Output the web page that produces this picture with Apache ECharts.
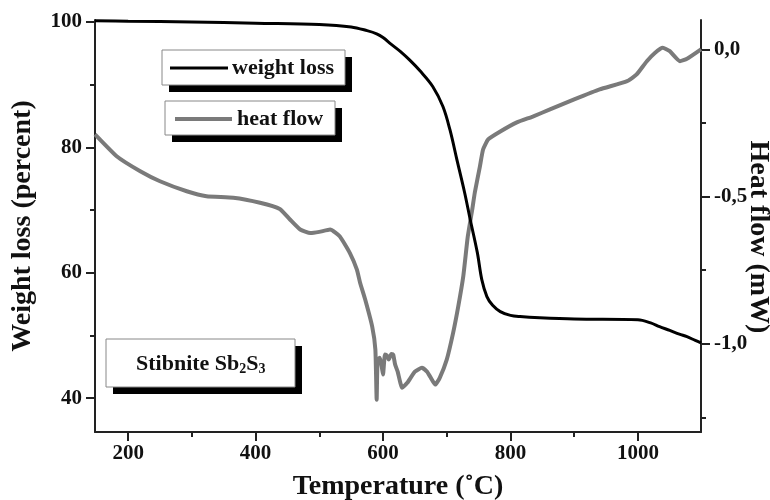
<!DOCTYPE html>
<html>
<head>
<meta charset="utf-8">
<script src="https://cdn.jsdelivr.net/npm/echarts@6/dist/echarts.min.js"></script>
<style>
html,body{margin:0;padding:0;background:#fff;}
#chart{width:770px;height:500px;}
</style>
</head>
<body>
<div id="chart"></div>
<script>
// Temperature (°C) for weight-loss curve
var tempWeight = [148, 200, 300, 400, 500, 550, 575, 590, 600, 612, 627, 642, 658, 678, 694, 705, 716, 728, 737, 748, 755, 763, 772, 784, 800, 815, 846, 900, 1000, 1020, 1034, 1050, 1065, 1077, 1090, 1099];
// Weight loss (percent)
var weightValues = [100.2, 100.1, 100.0, 99.8, 99.6, 99.2, 98.6, 98.1, 97.5, 96.5, 95.3, 93.9, 92.2, 89.7, 86.5, 82.8, 78.0, 72.8, 68.4, 63.2, 58.9, 56.2, 54.8, 53.8, 53.2, 53.0, 52.8, 52.6, 52.5, 52.0, 51.4, 50.8, 50.2, 49.8, 49.2, 48.8];
// Temperature (°C) for heat-flow curve
var tempHeat = [148, 182, 219, 250, 292, 323, 365, 407, 438, 454, 470, 486, 500, 517, 532, 548, 559, 564, 572, 583, 588, 590, 591.5, 595, 598, 600, 603, 606, 609, 613, 616, 619, 623, 630, 638, 650, 661, 669, 674, 682, 689, 700, 710, 718, 726, 733, 740, 744, 752, 757, 765, 784, 810, 835, 862, 900, 940, 983, 998, 1014, 1027, 1039, 1050, 1066, 1077, 1099];
// Heat flow (mW)
var heatValues = [-0.289, -0.363, -0.414, -0.448, -0.482, -0.499, -0.504, -0.521, -0.542, -0.578, -0.612, -0.624, -0.620, -0.612, -0.635, -0.692, -0.748, -0.793, -0.850, -0.942, -1.020, -1.190, -1.054, -1.048, -1.078, -1.105, -1.037, -1.040, -1.054, -1.035, -1.037, -1.071, -1.095, -1.150, -1.133, -1.095, -1.082, -1.095, -1.112, -1.139, -1.116, -1.054, -0.963, -0.874, -0.770, -0.636, -0.544, -0.487, -0.398, -0.340, -0.306, -0.279, -0.248, -0.228, -0.204, -0.170, -0.136, -0.108, -0.085, -0.040, -0.011, 0.006, -0.006, -0.040, -0.032, 0.0];

// Tick values
var xMajorTicks = [200, 400, 600, 800, 1000];
var xMinorTicks = [300, 500, 700, 900];
var leftMajorTicks = [40, 60, 80, 100];
var leftMinorTicks = [50, 70, 90];
var rightMajorTicks = [-1.0, -0.5, 0.0];
var rightMinorTicks = [-1.25, -0.75, -0.25];

var FONT = 'Liberation Serif';

function zip(a, b) { return a.map(function (v, i) { return [v, b[i]]; }); }

var gridBox = { left: 95, right: 69, top: 20, bottom: 68, containLabel: false, outerBoundsMode: 'none' };
var axisColor = '#222';
var tickLabel = { fontFamily: FONT, fontWeight: 'bold', fontSize: 21, color: '#111' };
var titleStyle = { fontFamily: FONT, fontWeight: 'bold', fontSize: 28, color: '#111' };

var chart = echarts.init(document.getElementById('chart'), null, { renderer: 'canvas' });
chart.setOption({
  animation: false,
  backgroundColor: '#fff',
  grid: [
    Object.assign({}, gridBox),
    Object.assign({}, gridBox)
  ],
  xAxis: [
    {
      type: 'value', gridIndex: 0, min: 148, max: 1099, position: 'bottom',
      axisLine: { show: true, onZero: false, lineStyle: { color: axisColor, width: 2 } },
      axisTick: { show: true, inside: false, length: 9, customValues: xMajorTicks, lineStyle: { color: axisColor, width: 2 } },
      axisLabel: Object.assign({ customValues: xMajorTicks, margin: 11, formatter: function (v) { return String(v); } }, tickLabel),
      splitLine: { show: false },
      name: 'Temperature (˚C)', nameLocation: 'middle', nameGap: 41, nameMoveOverlap: false,
      nameTextStyle: titleStyle
    },
    {
      type: 'value', gridIndex: 1, min: 148, max: 1099, position: 'bottom',
      axisLine: { show: false, onZero: false },
      axisTick: { show: true, inside: false, length: 5, customValues: xMinorTicks, lineStyle: { color: axisColor, width: 2 } },
      axisLabel: { show: false },
      splitLine: { show: false }
    }
  ],
  yAxis: [
    {
      type: 'value', gridIndex: 0, min: 34.6, max: 100.3, position: 'left',
      axisLine: { show: true, onZero: false, lineStyle: { color: axisColor, width: 2 } },
      axisTick: { show: true, inside: false, length: 9, customValues: leftMajorTicks, lineStyle: { color: axisColor, width: 2 } },
      axisLabel: Object.assign({ customValues: leftMajorTicks, margin: 13, formatter: function (v) { return String(v); } }, tickLabel),
      splitLine: { show: false },
      name: 'Weight loss (percent)', nameLocation: 'middle', nameGap: 58, nameRotate: 90, nameMoveOverlap: false,
      nameTextStyle: titleStyle
    },
    {
      type: 'value', gridIndex: 0, min: -1.3, max: 0.1, position: 'right',
      axisLine: { show: true, onZero: false, lineStyle: { color: axisColor, width: 2 } },
      axisTick: { show: true, inside: false, length: 9, customValues: rightMajorTicks, lineStyle: { color: axisColor, width: 2 } },
      axisLabel: Object.assign({
        customValues: rightMajorTicks, margin: 13,
        formatter: function (v) { return (Math.abs(v) < 1e-9 ? 0 : v).toFixed(1).replace('.', ','); }
      }, tickLabel),
      splitLine: { show: false },
      name: 'Heat flow (mW)', nameLocation: 'middle', nameGap: 43, nameRotate: -90, nameMoveOverlap: false,
      nameTextStyle: Object.assign({ padding: [0, 0, 0, 22] }, titleStyle)
    },
    {
      type: 'value', gridIndex: 1, min: 34.6, max: 100.3, position: 'left',
      axisLine: { show: false, onZero: false },
      axisTick: { show: true, inside: false, length: 5, customValues: leftMinorTicks, lineStyle: { color: axisColor, width: 2 } },
      axisLabel: { show: false },
      splitLine: { show: false }
    },
    {
      type: 'value', gridIndex: 1, min: -1.3, max: 0.1, position: 'right',
      axisLine: { show: false, onZero: false },
      axisTick: { show: true, inside: false, length: 5, customValues: rightMinorTicks, lineStyle: { color: axisColor, width: 2 } },
      axisLabel: { show: false },
      splitLine: { show: false }
    }
  ],
  series: [
    {
      name: 'heat flow', type: 'line', xAxisIndex: 0, yAxisIndex: 1,
      data: zip(tempHeat, heatValues), showSymbol: false, smooth: 0.15,
      lineStyle: { color: '#7a7a7a', width: 4 }, itemStyle: { color: '#7a7a7a' }, z: 2
    },
    {
      name: 'weight loss', type: 'line', xAxisIndex: 0, yAxisIndex: 0,
      data: zip(tempWeight, weightValues), showSymbol: false, smooth: 0.35,
      lineStyle: { color: '#000', width: 3 }, itemStyle: { color: '#000' }, z: 3
    }
  ],
  graphic: [
    // weight loss legend box
    { type: 'rect', shape: { x: 169, y: 57, width: 183, height: 35 }, style: { fill: '#000' }, z: 10 },
    { type: 'rect', shape: { x: 162, y: 50, width: 183, height: 35 }, style: { fill: '#fff', stroke: '#888', lineWidth: 1 }, z: 11 },
    { type: 'line', shape: { x1: 170, y1: 68, x2: 228, y2: 68 }, style: { stroke: '#000', lineWidth: 3 }, z: 12 },
    { type: 'text', x: 232, y: 68, style: { text: 'weight loss', font: 'bold 22px "Liberation Serif"', fill: '#111', verticalAlign: 'middle' }, z: 12 },
    // heat flow legend box
    { type: 'rect', shape: { x: 172, y: 108, width: 170, height: 34 }, style: { fill: '#000' }, z: 10 },
    { type: 'rect', shape: { x: 165, y: 101, width: 170, height: 34 }, style: { fill: '#fff', stroke: '#888', lineWidth: 1 }, z: 11 },
    { type: 'line', shape: { x1: 175, y1: 119, x2: 232, y2: 119 }, style: { stroke: '#7a7a7a', lineWidth: 4 }, z: 12 },
    { type: 'text', x: 237, y: 119, style: { text: 'heat flow', font: 'bold 22px "Liberation Serif"', fill: '#111', verticalAlign: 'middle' }, z: 12 },
    // sample label box
    { type: 'rect', shape: { x: 113, y: 346, width: 189, height: 48 }, style: { fill: '#000' }, z: 10 },
    { type: 'rect', shape: { x: 106, y: 339, width: 189, height: 48 }, style: { fill: '#fff', stroke: '#888', lineWidth: 1 }, z: 11 },
    {
      type: 'text', x: 136, y: 364, z: 12,
      style: {
        text: '{a|Stibnite Sb}{s|2}{a|S}{s|3}',
        verticalAlign: 'middle',
        rich: {
          a: { fontFamily: FONT, fontWeight: 'bold', fontSize: 22, fill: '#111', color: '#111' },
          s: { fontFamily: FONT, fontWeight: 'bold', fontSize: 14, fill: '#111', color: '#111', padding: [11, 0, 0, 0] }
        }
      }
    }
  ]
});
</script>
</body>
</html>
